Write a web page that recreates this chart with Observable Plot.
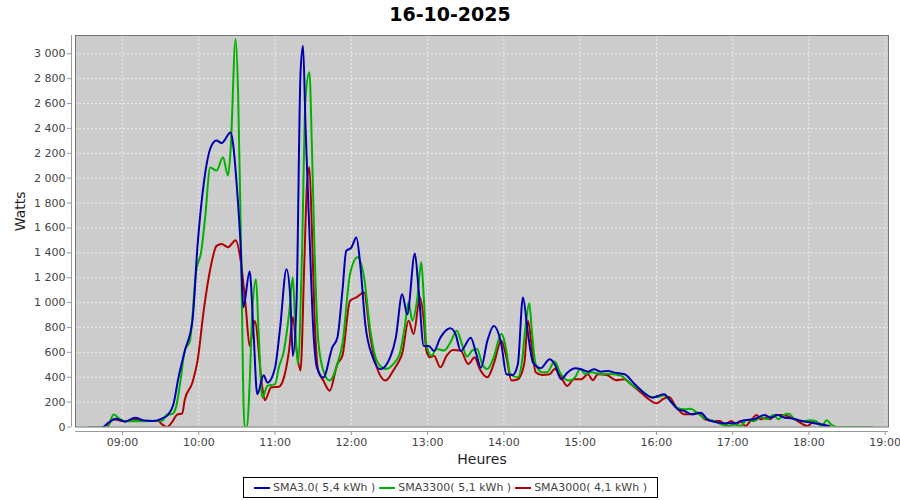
<!DOCTYPE html>
<html>
<head>
<meta charset="utf-8">
<script src="https://cdn.jsdelivr.net/npm/d3@7"></script>
<script src="https://cdn.jsdelivr.net/npm/@observablehq/plot@0.6"></script>
<style>
  html, body { margin: 0; padding: 0; background: #fff; }
  #wrap { position: relative; width: 900px; height: 500px; font-family: "DejaVu Sans", sans-serif; }
  #title { position: absolute; left: 0; top: 0; width: 900px; height: 28px; line-height: 28px;
           text-align: center; font-weight: bold; font-size: 19px; color: #000; }
  #chart { position: absolute; left: 0; top: 30px; }
  #legend { position: absolute; left: 243px; top: 477px; width: 415px; height: 21px; box-sizing: border-box;
            border: 1px solid #000; display: flex; align-items: center; justify-content: center;
            font-size: 11px; color: #444; gap: 4px; }
  .item { display: flex; align-items: center; gap: 3px; }
</style>
</head>
<body>
<div id="wrap">
  <div id="title"></div>
  <div id="chart"></div>
  <div id="legend"></div>
</div>
<script>
const chartTitle = "16-10-2025";
const yLabel = "Watts";
const xLabel = "Heures";
const seriesNames = ["SMA3.0( 5,4 kWh )", "SMA3300( 5,1 kWh )", "SMA3000( 4,1 kWh )"];
const seriesColors = ["#0000b2", "#00b200", "#b20000"];
const xTickLabels = ["09:00","10:00","11:00","12:00","13:00","14:00","15:00","16:00","17:00","18:00","19:00"];
const yTickValues = [0,200,400,600,800,1000,1200,1400,1600,1800,2000,2200,2400,2600,2800,3000];

const blueTimes = ["08:45","08:51","08:55","09:02","09:10","09:16","09:24","09:31","09:36","09:40","09:44","09:49","09:55","09:59",
"10:04","10:10","10:14","10:18","10:25","10:27","10:30","10:33","10:35","10:40","10:43","10:46","10:51","10:54",
"11:00","11:04","11:09","11:12","11:14","11:17","11:20","11:22","11:24","11:27","11:30","11:33","11:38","11:45","11:49","11:53","11:56",
"12:00","12:04","12:07","12:11","12:17","12:23","12:31","12:35","12:40","12:44","12:50","12:53","12:57",
"13:01","13:05","13:10","13:18","13:22","13:26","13:34","13:38","13:42","13:47","13:52","13:58",
"14:02","14:07","14:11","14:15","14:19","14:23","14:29","14:36","14:40","14:45","14:50","14:56",
"15:01","15:06","15:11","15:16","15:22","15:27","15:35","15:43","15:50","15:57",
"16:01","16:06","16:11","16:17","16:22","16:28","16:35","16:40","16:45","16:53",
"17:01","17:09","17:17","17:25","17:30","17:35","17:41","17:46","17:54","18:02","18:09","18:16"];
const blueValues = [0,50,67,43,75,54,48,68,100,180,397,612,853,1456,
1965,2262,2302,2282,2367,2274,1925,1442,962,1249,774,263,416,357,
477,799,1268,1040,571,1040,2837,3064,2407,1576,799,477,397,638,718,1094,1415,
1442,1523,1308,826,557,464,571,718,1067,906,1394,1094,651,
651,611,718,794,746,611,718,598,477,692,812,665,
424,418,504,1040,746,517,472,544,504,384,437,472,
464,445,464,445,450,437,424,343,276,236,
249,263,209,142,129,102,115,62,43,30,
30,54,62,96,75,96,75,70,48,35,22,8];

const greenTimes = ["08:34","08:40","08:48","08:53","08:57","09:02","09:15","09:31","09:35","09:39","09:42","09:45","09:49","09:53","09:58",
"10:02","10:05","10:09","10:14","10:19","10:23","10:25","10:29","10:31","10:33","10:36","10:38","10:40","10:42","10:45","10:47","10:50","10:54",
"11:00","11:03","11:07","11:11","11:14","11:16","11:18","11:21","11:24","11:27","11:29","11:31","11:34","11:38","11:43","11:49","11:53","11:59",
"12:05","12:10","12:15","12:20","12:27","12:33","12:38","12:42","12:45","12:48","12:52","12:55","12:57","12:59",
"13:03","13:07","13:13","13:18","13:23","13:27","13:31","13:35","13:39","13:43","13:47","13:52","13:58",
"14:02","14:05","14:11","14:14","14:17","14:20","14:22","14:25","14:30","14:34","14:40","14:44","14:51","14:56",
"15:00","15:04","15:09","15:16","15:24","15:32","15:40","15:48","15:56",
"16:01","16:06","16:11","16:16","16:22","16:27","16:32","16:37","16:45","16:51","16:57",
"17:02","17:06","17:11","17:17","17:22","17:27","17:32","17:36","17:40","17:44","17:49","17:56",
"18:01","18:05","18:10","18:14","18:18","18:22","18:30","18:40","18:50"];
const greenValues = [0,0,0,100,72,47,47,50,100,105,156,330,612,692,1255,
1415,1683,2085,2061,2168,2021,2222,3118,2651,1579,0,0,350,906,1188,774,237,330,
344,480,614,909,1203,774,506,1310,2651,2852,2249,1445,694,453,373,506,667,1230,
1364,1203,774,533,466,506,587,801,1002,855,1042,1324,1042,667,
573,627,614,681,774,667,566,614,627,506,466,560,748,
614,426,399,506,801,995,774,506,440,440,526,440,373,399,
466,426,440,426,426,413,345,292,241,
241,255,209,156,142,147,115,75,48,22,8,
22,8,54,48,80,62,96,62,96,107,62,48,
54,48,8,54,16,0,0,0,0];

const redTimes = ["08:48","08:53","08:57","09:02","09:10","09:15","09:28","09:31","09:35","09:39","09:43","09:47","09:49","09:55","09:59",
"10:04","10:09","10:14","10:18","10:23","10:29","10:33","10:37","10:40","10:44","10:50","10:52","10:57",
"11:03","11:07","11:11","11:14","11:17","11:20","11:23","11:25","11:27","11:29","11:31","11:34","11:38","11:43","11:49","11:53","11:59",
"12:04","12:10","12:15","12:20","12:27","12:33","12:37","12:40","12:45","12:49","12:54","12:57","12:59",
"13:02","13:05","13:10","13:15","13:20","13:26","13:32","13:37","13:41","13:47","13:52","13:58",
"14:02","14:06","14:11","14:16","14:19","14:22","14:25","14:30","14:36","14:40","14:45","14:50","14:55",
"15:01","15:06","15:10","15:14","15:21","15:28","15:35","15:40","15:48","15:54",
"16:00","16:05","16:10","16:15","16:22","16:28","16:33","16:38","16:45","16:50","16:54","16:59",
"17:03","17:06","17:10","17:14","17:19","17:22","17:26","17:29","17:34","17:39","17:43","17:51","17:59",
"18:04","18:09","18:13"];
const redValues = [0,62,54,48,62,48,48,22,0,40,100,110,220,357,531,
946,1268,1456,1471,1445,1502,1335,960,652,853,316,215,319,
324,399,614,882,614,453,1310,1925,2088,1579,909,453,373,292,506,573,1015,
1042,1082,721,480,373,453,520,590,855,748,1042,855,614,
560,573,480,573,619,614,506,560,466,399,506,694,
560,373,384,506,855,638,440,418,424,466,399,330,384,
384,424,376,424,418,376,384,343,276,223,
190,223,241,169,102,102,115,62,48,48,22,48,
16,48,8,48,96,62,75,62,96,96,88,48,8,
48,22,8];

const parseT = d3.utcParse("%H:%M");
const parseTs = d3.utcParse("%H:%M:%S");
const xDomain = [parseTs("08:23:01"), parseTs("19:02:35")];
const xTicks = xTickLabels.map(parseT);

const rows = (times, values) => times.map((t, i) => ({t: parseT(t), v: values[i]}));
const series = [rows(blueTimes, blueValues), rows(greenTimes, greenValues), rows(redTimes, redValues)];

const locale = d3.formatLocale({decimal: ",", thousands: " ", grouping: [3], currency: ["", " €"]});
const yFmt = locale.format(",d");

const plot = Plot.plot({
  width: 900,
  height: 445,
  marginLeft: 75,
  marginRight: 12,
  marginTop: 5,
  marginBottom: 48.5,
  style: {fontFamily: "DejaVu Sans, sans-serif", fontSize: "11px", background: "transparent", color: "#444", overflow: "visible"},
  x: {type: "utc", domain: xDomain, label: null},
  y: {domain: [0, 3147], label: null},
  marks: [
    Plot.frame({fill: "#cccccc", stroke: null}),
    Plot.gridY(yTickValues, {stroke: "#ffffff", strokeOpacity: 0.8, strokeDasharray: "2,2", strokeWidth: 0.8}),
    Plot.gridX(xTicks, {stroke: "#ffffff", strokeOpacity: 0.8, strokeDasharray: "2,2", strokeWidth: 0.8}),
    Plot.line(series[2], {x: "t", y: "v", stroke: seriesColors[2], strokeWidth: 2, curve: "monotone-x", clip: true}),
    Plot.line(series[1], {x: "t", y: "v", stroke: seriesColors[1], strokeWidth: 2, curve: "monotone-x", clip: true}),
    Plot.line(series[0], {x: "t", y: "v", stroke: seriesColors[0], strokeWidth: 2, curve: "monotone-x", clip: true}),
    Plot.frame({stroke: "#777", strokeWidth: 1}),
    Plot.ruleX([xDomain[0]], {dx: -4, stroke: "#999"}),
    Plot.ruleY([0], {dy: 4.5, stroke: "#999"}),
    Plot.axisY(yTickValues, {tickFormat: yFmt, tickSize: 4, tickPadding: 2, dx: -4, color: "#444", stroke: "#999", label: null}),
    Plot.axisX(xTicks, {tickFormat: d3.utcFormat("%H:%M"), tickSize: 4, tickPadding: 3, dy: 4.5, color: "#444", stroke: "#999", label: null}),
    Plot.text([yLabel], {frameAnchor: "left", dx: -55, rotate: -90, fontSize: 14, fill: "#222"}),
    Plot.text([xLabel], {frameAnchor: "bottom", dy: 37, fontSize: 14, fill: "#222"})
  ]
});

document.getElementById("title").textContent = chartTitle;
document.getElementById("chart").appendChild(plot);

const legend = document.getElementById("legend");
seriesNames.forEach((name, i) => {
  const item = document.createElement("div");
  item.className = "item";
  item.innerHTML = `<svg width="16" height="6"><line x1="0" y1="3" x2="16" y2="3" stroke="${seriesColors[i]}" stroke-width="2"/><rect x="7" y="2" width="2" height="2" fill="${seriesColors[i]}"/></svg><span>${name}</span>`;
  legend.appendChild(item);
});
</script>
</body>
</html>
